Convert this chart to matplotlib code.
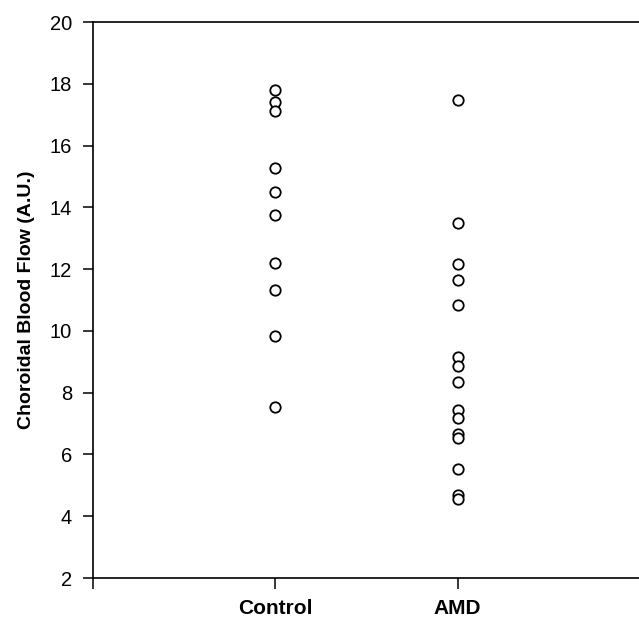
import matplotlib
matplotlib.use("Agg")
import matplotlib.pyplot as plt

plt.rcParams['font.family'] = ['Liberation Sans', 'DejaVu Sans']

groups = ["Control", "AMD"]
controlFlow = [17.80, 17.41, 17.12, 15.27, 14.50, 13.75, 12.20, 11.32, 9.83, 7.54]
amdFlow = [17.47, 13.49, 12.17, 11.65, 10.84, 9.16, 8.86, 8.35, 7.44, 7.18,
           6.66, 6.53, 5.53, 4.69, 4.56]

fig = plt.figure(figsize=(6.39, 6.18), dpi=100)
ax = fig.add_axes([93 / 639, 40 / 618, (640 - 93) / 639, (578 - 22) / 618])

for pos, values in zip([1, 2], [controlFlow, amdFlow]):
    ax.plot([pos] * len(values), values, linestyle="none", marker="o",
            markersize=7.5, markerfacecolor="white", markeredgecolor="black",
            markeredgewidth=1.3)

ax.set_xlim(0, 3)
ax.set_ylim(2, 20)
ax.set_yticks(range(2, 21, 2))
ax.set_xticks([0, 1, 2, 3])
ax.set_xticklabels(["", groups[0], groups[1], ""], fontweight="bold", fontsize=15)
ax.tick_params(axis="y", labelsize=14.5, length=7, width=1.1, pad=8, direction="out")
ax.tick_params(axis="x", length=8, width=1.1, pad=7, direction="out")
ax.set_ylabel("Choroidal Blood Flow (A.U.)", fontweight="bold", fontsize=14, labelpad=11)

for side in ["left", "bottom", "top", "right"]:
    ax.spines[side].set_linewidth(1.2)

fig.savefig("out.png", dpi=100)
